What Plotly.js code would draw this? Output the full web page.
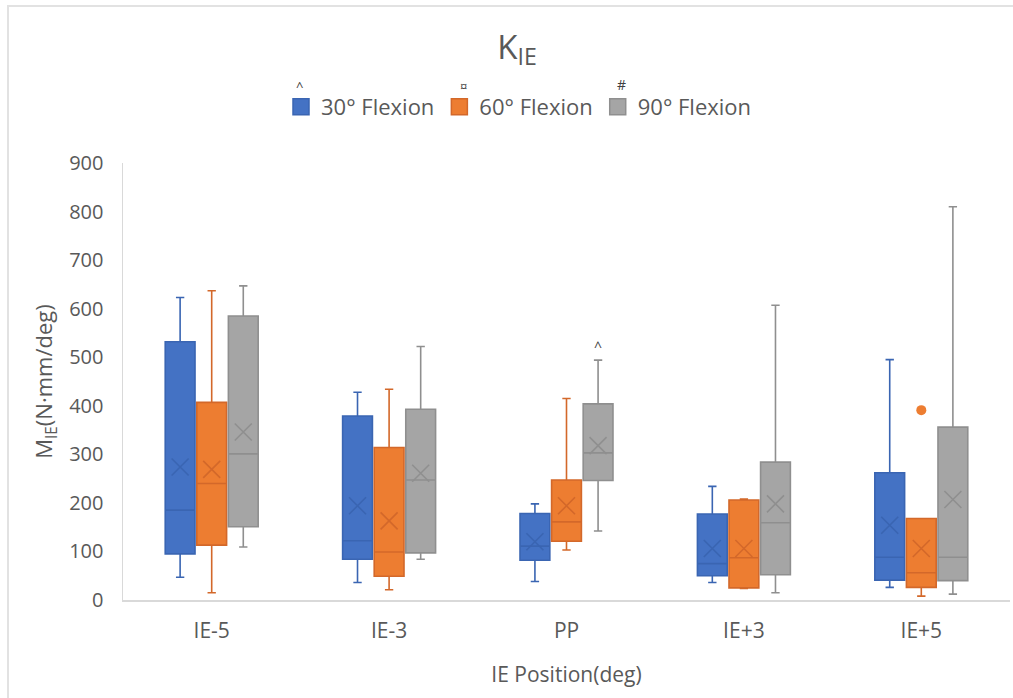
<!DOCTYPE html>
<html>
<head>
<meta charset="utf-8">
<script src="https://cdn.plot.ly/plotly-3.0.1.min.js"></script>
<style>
  html, body { margin: 0; padding: 0; background: #ffffff; overflow: hidden; }
  #chart { position: absolute; left: 0; top: 0; width: 1013px; height: 698px; }
  #frame { position: absolute; left: 7px; top: 5px; width: 2000px; height: 2000px;
           border-left: 2px solid #E2E2E2; border-top: 2px solid #E2E2E2; pointer-events: none; }
</style>
</head>
<body>
<div id="chart"></div>
<div id="frame"></div>
<script>
// ---- Data ----
const categories = ['IE-5', 'IE-3', 'PP', 'IE+3', 'IE+5'];
const seriesNames = ['30° Flexion', '60° Flexion', '90° Flexion'];
const seriesMarks = ['^', '¤', '#'];

const lower30  = [47, 36, 38, 36, 26];
const q1_30    = [95, 84, 82, 50, 41];
const median30 = [185, 122, 111, 75, 88];
const q3_30    = [532, 379, 178, 177, 262];
const upper30  = [623, 428, 198, 234, 495];
const mean30   = [274, 194, 120, 106, 154];

const lower60  = [15, 21, 103, 24, 8];
const q1_60    = [113, 49, 121, 25, 26];
const median60 = [240, 99, 161, 87, 56];
const q3_60    = [407, 314, 247, 206, 168];
const upper60  = [637, 434, 415, 208, 168];
const mean60   = [269, 163, 194, 106, 106];
const outlier60 = [null, null, null, null, 391];

const lower90  = [109, 84, 142, 15, 12];
const q1_90    = [151, 97, 246, 52, 40];
const median90 = [301, 247, 303, 159, 88];
const q3_90    = [585, 393, 404, 284, 356];
const upper90  = [647, 522, 494, 607, 810];
const mean90   = [346, 261, 318, 198, 207];

// PP, 90° significance mark
const sigCategoryIndex = 2;
const sigSeriesIndex = 2;
const sigText = '^';

const yTicks = [0, 100, 200, 300, 400, 500, 600, 700, 800, 900];

// ---- Styling ----
const fills = ['#4472C4', '#ED7D31', '#A5A5A5'];
const lines = ['#3A65B2', '#D3682A', '#8F8F8F'];
const textColor = '#595959';
const fontFamily = '"Open Sans", "Noto Sans", sans-serif';

const boxWidth = 0.168;
const slot = 0.178;
const offsets = [-slot, 0, slot];

const stats = [
  {lo: lower30, q1: q1_30, me: median30, q3: q3_30, hi: upper30, mean: mean30},
  {lo: lower60, q1: q1_60, me: median60, q3: q3_60, hi: upper60, mean: mean60},
  {lo: lower90, q1: q1_90, me: median90, q3: q3_90, hi: upper90, mean: mean90}
];

const catIdx = categories.map((c, i) => i);
const traces = [];

stats.forEach((s, k) => {
  const xs = catIdx.map(i => i + offsets[k]);
  traces.push({
    type: 'box',
    name: seriesNames[k],
    x: xs,
    q1: s.q1, median: s.me, q3: s.q3,
    lowerfence: s.lo, upperfence: s.hi,
    width: boxWidth,
    whiskerwidth: 0.28,
    boxpoints: false,
    fillcolor: fills[k],
    line: {color: lines[k], width: 1.6},
    showlegend: false,
    legendgroup: 'g' + k,
    hoverinfo: 'skip'
  });
  traces.push({
    type: 'scatter',
    mode: 'markers',
    x: xs,
    y: s.mean,
    marker: {symbol: 'x-thin-open', size: 17, color: lines[k], line: {color: lines[k], width: 1.6}},
    showlegend: false,
    legendgroup: 'g' + k,
    hoverinfo: 'skip'
  });
  // legend entry
  traces.push({
    type: 'scatter',
    mode: 'markers',
    name: seriesNames[k],
    x: [null], y: [null],
    marker: {symbol: 'square', size: 16, color: fills[k], line: {color: lines[k], width: 1.5}},
    legendgroup: 'g' + k,
    showlegend: true
  });
});

// outlier (60°)
traces.push({
  type: 'scatter',
  mode: 'markers',
  x: catIdx.map(i => i + offsets[1]),
  y: outlier60,
  marker: {symbol: 'circle', size: 10, color: fills[1]},
  showlegend: false,
  hoverinfo: 'skip'
});

const px2x = p => (p - 123) / 887;
const py2y = p => (600 - p) / 437;

const markFont = {color: '#404040', family: fontFamily};
const annotations = [
  {xref: 'x', yref: 'y', x: sigCategoryIndex + offsets[sigSeriesIndex],
   y: stats[sigSeriesIndex].hi[sigCategoryIndex], text: sigText, showarrow: false,
   xanchor: 'center', yanchor: 'bottom', yshift: 2, font: Object.assign({size: 14}, markFont)},
  {xref: 'paper', yref: 'paper', x: px2x(299), y: py2y(86), text: seriesMarks[0], showarrow: false,
   xanchor: 'center', yanchor: 'middle', font: Object.assign({size: 13}, markFont)},
  {xref: 'paper', yref: 'paper', x: px2x(463), y: py2y(86), text: seriesMarks[1], showarrow: false,
   xanchor: 'center', yanchor: 'middle', font: Object.assign({size: 13}, markFont)},
  {xref: 'paper', yref: 'paper', x: px2x(621), y: py2y(84), text: seriesMarks[2], showarrow: false,
   xanchor: 'center', yanchor: 'middle', font: Object.assign({size: 14}, markFont)}
];

const layout = {
  width: 1013,
  height: 698,
  margin: {l: 123, r: 3, t: 163, b: 98},
  paper_bgcolor: '#ffffff',
  plot_bgcolor: '#ffffff',
  font: {family: fontFamily, color: textColor, size: 20},
  title: {
    text: 'K<sub>IE</sub>',
    x: 517 / 1013, xanchor: 'center',
    y: 1 - 47 / 698, yanchor: 'middle',
    font: {size: 33, color: textColor, family: fontFamily}
  },
  showlegend: true,
  legend: {
    orientation: 'h',
    x: px2x(281), xanchor: 'left',
    y: py2y(107), yanchor: 'middle',
    font: {size: 22, color: textColor, family: fontFamily},
    bgcolor: 'rgba(0,0,0,0)'
  },
  xaxis: {
    range: [-0.5, 4.5],
    tickmode: 'array',
    tickvals: catIdx,
    ticktext: categories,
    showline: true, linecolor: '#D9D9D9', linewidth: 1.5,
    showgrid: false, zeroline: false, ticks: '',
    tickfont: {size: 21, color: textColor},
    ticklabelstandoff: 11,
    title: {text: 'IE Position(deg)', font: {size: 21, color: textColor}, standoff: 24}
  },
  yaxis: {
    range: [0, 900],
    tickmode: 'array',
    tickvals: yTicks,
    showline: true, linecolor: '#D9D9D9', linewidth: 1.5,
    showgrid: false, zeroline: false, ticks: '',
    tickfont: {size: 20, color: textColor},
    ticklabelstandoff: 14,
    title: {text: 'M<sub>IE</sub>(N·mm/deg)', font: {size: 22, color: textColor}, standoff: 10}
  },
  annotations: annotations
};

Plotly.newPlot('chart', traces, layout, {displayModeBar: false, staticPlot: true});
</script>
</body>
</html>
